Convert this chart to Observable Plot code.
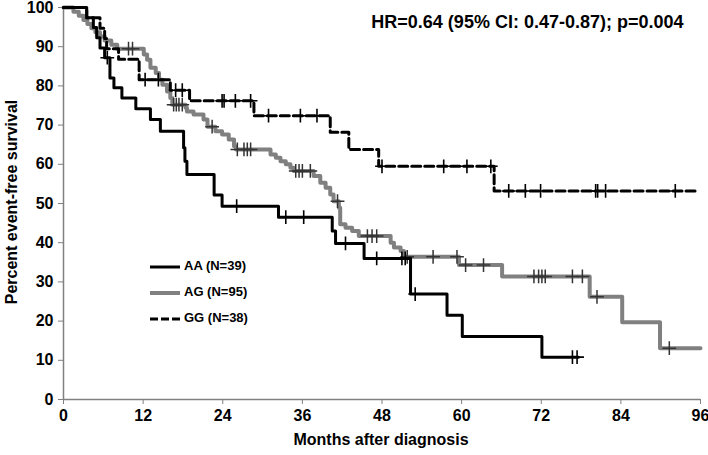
<!DOCTYPE html>
<html><head><meta charset="utf-8">
<script src="https://cdn.jsdelivr.net/npm/d3@7"></script>
<script src="https://cdn.jsdelivr.net/npm/@observablehq/plot@0.6"></script>
<style>body{margin:0;background:#fff}#chart{width:708px;height:455px}</style>
</head><body><div id="chart"></div>
<script>
const groups = ["AA (N=39)", "AG (N=95)", "GG (N=38)"];

const aaTime = [0,3.5,4.5,5.0,5.5,6.2,7.0,7.6,8.8,10.9,13.1,14.6,18.1,18.3,18.6,22.7,23.9,32.4,40.5,41.0,45.3,52.3,57.8,60.1,72.1,77.6];
const aaSurv = [100,97.4,94.9,92.3,89.7,87.2,82.0,79.5,76.9,74.2,71.4,68.4,64.2,60.8,57.4,52.2,49.3,46.5,43.0,39.8,36.0,26.9,21.5,16.1,10.8,10.8];
const aaCensor = [6.6,26.1,33.5,36.2,42.5,47.2,51.0,51.5,53.0,76.7,77.4];

const agTime = [0,1.5,2.3,3.0,3.6,4.2,4.8,5.5,6.2,7.2,8.1,12.1,12.6,13.1,13.9,14.4,14.9,15.6,16.1,16.4,18.4,18.6,19.6,21.1,21.7,22.9,23.9,24.9,25.7,26.0,31.2,32.0,32.7,33.5,34.2,34.7,37.7,38.7,39.5,40.2,40.7,41.5,41.7,42.5,43.5,44.5,49.3,49.8,50.8,51.3,59.6,66.1,79.3,84.2,89.9,96];
const agSurv = [100,98.9,97.9,96.8,95.8,94.7,93.7,92.6,91.6,90.5,89.5,88.0,86.7,84.6,83.3,81.6,80.3,78.6,76.9,75.2,74.4,73.5,72.7,71.4,69.6,68.4,67.6,66.3,64.6,63.8,62.5,61.7,60.8,60.0,59.1,58.3,57.0,55.3,54.0,52.3,50.6,48.9,44.7,43.8,43.0,41.7,40.0,38.8,37.9,36.4,34.3,31.4,26.2,19.7,13.1,13.1];
const agCensor = [9.8,10.4,16.6,17.0,17.4,17.9,22.4,26.2,27.2,27.7,28.2,35.0,35.5,36.0,37.2,41.3,45.8,46.5,47.2,51.8,55.7,59.3,60.6,63.3,70.9,71.6,72.1,72.6,76.7,78.2,80.4,91.3];

const ggTime = [0,3.5,5.5,6.2,6.5,8.3,11.4,16.1,19.0,28.7,40.2,43.0,47.5,64.9,95.7];
const ggSurv = [100,97.4,94.7,92.1,89.5,86.8,81.6,78.9,76.2,72.4,68.2,63.8,59.5,53.2,53.2];
const ggCensor = [12.3,14.3,16.9,17.9,23.9,24.2,25.9,28.2,30.9,35.7,38.2,48.0,57.3,60.8,64.4,67.1,69.6,71.9,80.2,80.5,81.7,92.2];

const xTicks = [0,12,24,36,48,60,72,84,96];
const yTicks = [0,10,20,30,40,50,60,70,80,90,100];
const hrText = "HR=0.64 (95% CI: 0.47-0.87); p=0.004";
const xLabel = "Months after diagnosis";
const yLabel = "Percent event-free survival";

function steps(group, time, surv) {
  return time.map((t, i) => ({group, time: t, surv: surv[i]}));
}
function censors(group, time, surv, cens) {
  return cens.map(c => {
    let s = surv[0];
    for (let i = 0; i < time.length; i++) if (time[i] <= c) s = surv[i];
    return {group, time: c, surv: s};
  });
}

const aaData = steps(groups[0], aaTime, aaSurv);
const agData = steps(groups[1], agTime, agSurv);
const ggData = steps(groups[2], ggTime, ggSurv);
const aaC = censors(groups[0], aaTime, aaSurv, aaCensor);
const agC = censors(groups[1], agTime, agSurv, agCensor);
const ggC = censors(groups[2], ggTime, ggSurv, ggCensor);

const font = "'Liberation Sans', Arial, Helvetica, sans-serif";
const axisGray = "#808080";
const lineGray = "#808080";

const plot = Plot.plot({
  width: 708, height: 455,
  marginLeft: 63, marginRight: 8, marginTop: 7, marginBottom: 56,
  style: {fontFamily: font, fontSize: "16px", fontWeight: "bold", color: "black", background: "white", overflow: "visible"},
  x: {domain: [0, 96], label: null},
  y: {domain: [0, 100], label: null},
  marks: [
    Plot.axisX({ticks: xTicks, tickSize: 5, tickPadding: 5, stroke: axisGray, fill: "black", label: null, fontSize: 16, fontWeight: "bold"}),
    Plot.axisY({ticks: yTicks, tickSize: 5, tickPadding: 5, stroke: axisGray, fill: "black", label: null, fontSize: 16, fontWeight: "bold"}),
    Plot.ruleY([0], {stroke: axisGray, strokeWidth: 1.5}),
    Plot.ruleX([0], {stroke: axisGray, strokeWidth: 1.5}),
    Plot.line(agData, {x: "time", y: "surv", curve: "step-after", stroke: lineGray, strokeWidth: 4}),
    Plot.dot(agC, {x: "time", y: "surv", symbol: "plus", r: 4.5, stroke: "#333", strokeWidth: 1.5}),
    Plot.line(aaData, {x: "time", y: "surv", curve: "step-after", stroke: "black", strokeWidth: 3}),
    Plot.dot(aaC, {x: "time", y: "surv", symbol: "plus", r: 4.5, stroke: "black", strokeWidth: 1.6}),
    Plot.line(ggData, {x: "time", y: "surv", curve: "step-after", stroke: "black", strokeWidth: 3, strokeDasharray: "9,4"}),
    Plot.dot(ggC, {x: "time", y: "surv", symbol: "plus", r: 4.5, stroke: "black", strokeWidth: 1.6}),
    Plot.text([hrText], {frameAnchor: "top-right", dx: -17, dy: 15, lineAnchor: "middle", fontSize: 18, fontWeight: "bold", fill: "black"})
  ]
});

const svg = d3.select(plot);
svg.append("text").attr("x", 381).attr("y", 441).attr("text-anchor", "middle").attr("dominant-baseline", "middle")
  .style("font-family", font).style("font-size", "16px").style("font-weight", "bold").text(xLabel);
svg.append("text").attr("transform", "translate(13,202) rotate(-90)").attr("text-anchor", "middle").attr("dominant-baseline", "middle")
  .style("font-family", font).style("font-size", "16px").style("font-weight", "bold").text(yLabel);

const legendStyles = [
  {stroke: "black", width: 3, dash: null},
  {stroke: lineGray, width: 4, dash: null},
  {stroke: "black", width: 3, dash: "8,3"}
];
groups.forEach((g, i) => {
  const y = 267 + i * 26;
  const st = legendStyles[i];
  const l = svg.append("line").attr("x1", 150).attr("x2", 180).attr("y1", y).attr("y2", y)
    .attr("stroke", st.stroke).attr("stroke-width", st.width);
  if (st.dash) l.attr("stroke-dasharray", st.dash);
  svg.append("text").attr("x", 184).attr("y", y).attr("text-anchor", "start").attr("dominant-baseline", "middle")
    .style("font-family", font).style("font-size", "13px").style("font-weight", "bold").text(g);
});

document.getElementById("chart").appendChild(plot);
</script>
</body></html>
